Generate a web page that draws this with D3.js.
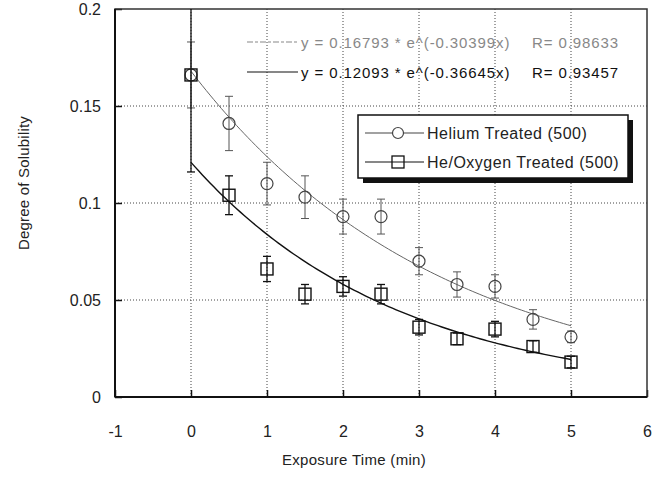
<!DOCTYPE html>
<html lang="en">
<head>
  <meta charset="UTF-8">
  <title>Degree of Solubility</title>
  <script src="https://cdnjs.cloudflare.com/ajax/libs/d3/7.8.5/d3.min.js"></script>
  <style>
    body { margin: 0; background: #fff; }
    text { font-family: "Liberation Sans", Arial, sans-serif; fill: #222; }
  </style>
</head>
<body>
  <div id="chart"></div>
  <script>
    // exposure times (min)
    const times = [0, 0.5, 1, 1.5, 2, 2.5, 3, 3.5, 4, 4.5, 5];

    // Helium Treated (500)
    const heliumValues = [0.166, 0.141, 0.110, 0.103, 0.093, 0.093, 0.070, 0.058, 0.057, 0.040, 0.031];
    const heliumErrors = [0.017, 0.014, 0.011, 0.011, 0.009, 0.009, 0.007, 0.0065, 0.006, 0.005, 0.003];

    // He/Oxygen Treated (500)
    const oxygenValues = [0.166, 0.104, 0.066, 0.053, 0.057, 0.053, 0.036, 0.030, 0.035, 0.026, 0.018];
    const oxygenErrors = [0.05, 0.010, 0.0065, 0.005, 0.005, 0.005, 0.004, 0.003, 0.004, 0.003, 0.003];

    // exponential fits shown in the chart: y = a * e^(b x)
    const fitHelium = { a: 0.16793, b: -0.30399, label: "y = 0.16793 * e^(-0.30399x)", r: "R= 0.98633" };
    const fitOxygen = { a: 0.12093, b: -0.36645, label: "y = 0.12093 * e^(-0.36645x)", r: "R= 0.93457" };

    const xTicks = [-1, 0, 1, 2, 3, 4, 5, 6];
    const yTicks = [0, 0.05, 0.1, 0.15, 0.2];

    const width = 661, height = 484;
    const margin = { left: 115, top: 9, right: 14, bottom: 87 };

    const svg = d3.select('#chart').append('svg')
      .attr('width', width)
      .attr('height', height);

    const x = d3.scaleLinear().domain([-1, 6]).range([margin.left, width - margin.right]);
    const y = d3.scaleLinear().domain([0, 0.2]).range([height - margin.bottom, margin.top]);

    const plot = svg.append('g');

    // clip to plot area
    svg.append('clipPath').attr('id', 'clip')
      .append('rect')
      .attr('x', x(-1)).attr('y', y(0.2))
      .attr('width', x(6) - x(-1)).attr('height', y(0) - y(0.2));

    // grid
    plot.selectAll('.gx').data(xTicks.slice(1, -1)).join('line')
      .attr('x1', d => x(d)).attr('x2', d => x(d))
      .attr('y1', y(0)).attr('y2', y(0.2))
      .attr('stroke', '#444').attr('stroke-width', 1).attr('stroke-dasharray', '1,2');
    plot.selectAll('.gy').data(yTicks.slice(1, -1)).join('line')
      .attr('x1', x(-1)).attr('x2', x(6))
      .attr('y1', d => y(d)).attr('y2', d => y(d))
      .attr('stroke', '#444').attr('stroke-width', 1).attr('stroke-dasharray', '1,2');

    // axes (ticks drawn inside the frame)
    const xAxis = d3.axisBottom(x).tickValues(xTicks).tickSize(-7).tickPadding(29).tickFormat(d => String(d));
    const yAxis = d3.axisLeft(y).tickValues(yTicks).tickSize(-7).tickPadding(14).tickFormat(d => d === 0 ? '0' : String(d));

    const gx = svg.append('g').attr('transform', `translate(0,${y(0)})`).call(xAxis);
    const gy = svg.append('g').attr('transform', `translate(${x(-1)},0)`).call(yAxis);
    [gx, gy].forEach(g => {
      g.select('.domain').remove();
      g.selectAll('.tick line').attr('stroke', '#111').attr('stroke-width', 1.5);
      g.selectAll('.tick text').style('font-size', '16px').attr('fill', '#222');
    });

    // frame
    svg.append('rect')
      .attr('x', x(-1)).attr('y', y(0.2))
      .attr('width', x(6) - x(-1)).attr('height', y(0) - y(0.2))
      .attr('fill', 'none').attr('stroke', '#333').attr('stroke-width', 1.5);
    svg.append('line')
      .attr('x1', x(-1)).attr('x2', x(-1)).attr('y1', y(0)).attr('y2', y(0.2))
      .attr('stroke', '#111').attr('stroke-width', 2);
    svg.append('line')
      .attr('x1', x(-1)).attr('x2', x(6)).attr('y1', y(0)).attr('y2', y(0))
      .attr('stroke', '#111').attr('stroke-width', 2);

    // fit curves
    const fitLine = f => d3.line()
      .x(d => x(d))
      .y(d => y(f.a * Math.exp(f.b * d)))(d3.range(0, 5.001, 0.05));

    const marks = svg.append('g').attr('clip-path', 'url(#clip)');

    marks.append('path').attr('d', fitLine(fitHelium))
      .attr('fill', 'none').attr('stroke', '#666').attr('stroke-width', 1);
    marks.append('path').attr('d', fitLine(fitOxygen))
      .attr('fill', 'none').attr('stroke', '#111').attr('stroke-width', 1.4);

    // error bars
    function errorBars(vals, errs, color, w) {
      const g = marks.append('g').attr('stroke', color).attr('stroke-width', w);
      times.forEach((t, i) => {
        const lo = vals[i] - errs[i], hi = vals[i] + errs[i];
        g.append('line').attr('x1', x(t)).attr('x2', x(t)).attr('y1', y(lo)).attr('y2', y(hi));
        g.append('line').attr('x1', x(t) - 4).attr('x2', x(t) + 4).attr('y1', y(lo)).attr('y2', y(lo));
        g.append('line').attr('x1', x(t) - 4).attr('x2', x(t) + 4).attr('y1', y(hi)).attr('y2', y(hi));
      });
    }
    errorBars(heliumValues, heliumErrors, '#555', 1);
    errorBars(oxygenValues, oxygenErrors, '#111', 1.3);

    // markers
    marks.selectAll('.he').data(times).join('circle')
      .attr('cx', d => x(d)).attr('cy', (d, i) => y(heliumValues[i]))
      .attr('r', 6).attr('fill', 'none').attr('stroke', '#444').attr('stroke-width', 1.2);
    marks.selectAll('.ox').data(times).join('rect')
      .attr('x', d => x(d) - 6).attr('y', (d, i) => y(oxygenValues[i]) - 6)
      .attr('width', 12).attr('height', 12)
      .attr('fill', 'none').attr('stroke', '#111').attr('stroke-width', 1.4);

    // equations
    const eq = svg.append('g');
    [[fitHelium, 42, '#888', '6,2,3,2'], [fitOxygen, 72, '#111', null]].forEach(([f, yy, c, dash]) => {
      eq.append('line').attr('x1', 247).attr('x2', 298).attr('y1', yy).attr('y2', yy)
        .attr('stroke', c).attr('stroke-width', 1.2).attr('stroke-dasharray', dash);
      eq.append('text').attr('x', 301).attr('y', yy + 6).text(f.label)
        .style('font-size', '15px').style('letter-spacing', '0.9px').style('fill', c);
      eq.append('text').attr('x', 532).attr('y', yy + 6).text(f.r)
        .style('font-size', '15px').style('letter-spacing', '0.9px').style('fill', c);
    });

    // legend
    const lg = svg.append('g');
    lg.append('rect').attr('x', 363).attr('y', 120).attr('width', 270).attr('height', 63).attr('fill', '#111');
    lg.append('rect').attr('x', 358).attr('y', 115).attr('width', 270).attr('height', 63)
      .attr('fill', '#fff').attr('stroke', '#111').attr('stroke-width', 1.5);
    const legendItems = [
      { name: 'Helium Treated (500)', yy: 133, shape: 'circle', color: '#444' },
      { name: 'He/Oxygen Treated (500)', yy: 162, shape: 'square', color: '#111' }
    ];
    legendItems.forEach(it => {
      lg.append('line').attr('x1', 365).attr('x2', 424).attr('y1', it.yy).attr('y2', it.yy)
        .attr('stroke', it.color).attr('stroke-width', 1.2);
      if (it.shape === 'circle') {
        lg.append('circle').attr('cx', 398).attr('cy', it.yy).attr('r', 5.5)
          .attr('fill', '#fff').attr('stroke', it.color).attr('stroke-width', 1.2);
      } else {
        lg.append('rect').attr('x', 392).attr('y', it.yy - 6).attr('width', 12).attr('height', 12)
          .attr('fill', 'none').attr('stroke', it.color).attr('stroke-width', 1.3);
      }
      lg.append('text').attr('x', 427).attr('y', it.yy + 6).text(it.name)
        .style('font-size', '16px').style('letter-spacing', '0.5px');
    });

    // axis titles
    svg.append('text').attr('x', 354).attr('y', 465).attr('text-anchor', 'middle')
      .style('font-size', '15px').style('letter-spacing', '0.3px').text('Exposure Time (min)');
    svg.append('text').attr('transform', 'translate(29,183) rotate(-90)').attr('text-anchor', 'middle')
      .style('font-size', '15px').style('letter-spacing', '0.2px').text('Degree of Solubility');
  </script>
</body>
</html>
